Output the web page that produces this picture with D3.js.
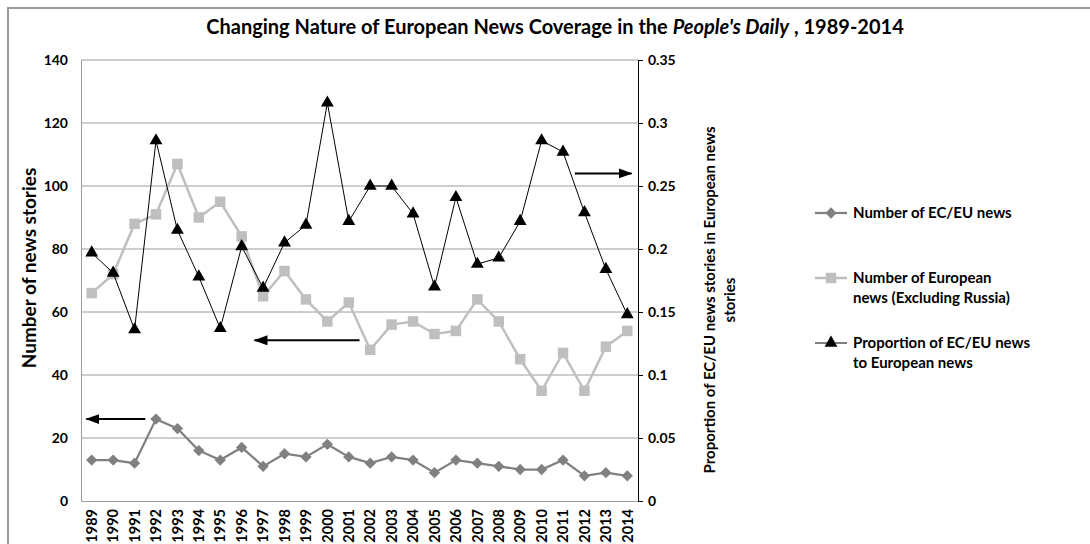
<!DOCTYPE html>
<html>
<head>
<meta charset="utf-8">
<script src="https://cdn.jsdelivr.net/npm/d3@7"></script>
<style>
  body { margin: 0; background: #fff; }
  text { font-family: Lato, "Open Sans", sans-serif; font-weight: bold; fill: #000; }
</style>
</head>
<body>
<svg id="chart" width="1090" height="544"></svg>
<script>
// data
const years = ['1989','1990','1991','1992','1993','1994','1995','1996','1997','1998','1999','2000','2001',
  '2002','2003','2004','2005','2006','2007','2008','2009','2010','2011','2012','2013','2014'];
const ecEuNews = [13,13,12,26,23,16,13,17,11,15,14,18,14,12,14,13,9,13,12,11,10,10,13,8,9,8];
const europeanNews = [66,72,88,91,107,90,95,84,65,73,64,57,63,48,56,57,53,54,64,57,45,35,47,35,49,54];
const ecEuShare = [0.197,0.181,0.136,0.286,0.215,0.178,0.137,0.202,0.169,0.205,0.219,0.316,0.222,
  0.250,0.250,0.228,0.170,0.241,0.188,0.193,0.222,0.286,0.277,0.229,0.184,0.148];
const leftTicks = [0,20,40,60,80,100,120,140];
const rightTicks = [0,0.05,0.1,0.15,0.2,0.25,0.3,0.35];
const seriesNames = [['Number of EC/EU news'], ['Number of European', 'news (Excluding Russia)'],
  ['Proportion of EC/EU news', 'to European news']];
// annotation arrows: value on an axis, running from one year index to another
const arrows = [
  { axis: 'left', value: 26, from: 2.5, to: -0.25 },
  { axis: 'left', value: 51, from: 12.5, to: 7.6 },
  { axis: 'right', value: 0.26, from: 22.55, to: 25.2 }
];

const svg = d3.select('#chart');
const plot = { left: 81, right: 638, top: 60, bottom: 501 };

svg.append('rect')
  .attr('x', 8).attr('y', 8).attr('width', 1100).attr('height', 600)
  .attr('fill', 'none').attr('stroke', '#9a9a9a').attr('stroke-width', 2);

const x = d3.scaleBand().domain(years).range([plot.left, plot.right]);
const cx = d => x(d) + x.bandwidth() / 2;
const xi = d3.scaleLinear().domain([0, years.length - 1]).range([cx(years[0]), cx(years[years.length - 1])]);
const yL = d3.scaleLinear().domain([0, 140]).range([plot.bottom, plot.top]);
const yR = d3.scaleLinear().domain([0, 0.35]).range([plot.bottom, plot.top]);

// gridlines
svg.append('g')
  .selectAll('line')
  .data(leftTicks.slice(1))
  .enter()
  .append('line')
  .attr('x1', plot.left).attr('x2', plot.right)
  .attr('y1', d => yL(d)).attr('y2', d => yL(d))
  .attr('stroke', '#9c9c9c').attr('stroke-width', 1);

// left axis
const gl = svg.append('g')
  .attr('transform', `translate(${plot.left}, 0)`)
  .call(d3.axisLeft(yL).tickValues(leftTicks).tickSize(0).tickPadding(13));
gl.select('.domain').attr('stroke', '#9c9c9c');
gl.selectAll('text').style('font-size', '14px');

// bottom axis
const gb = svg.append('g')
  .attr('transform', `translate(0, ${plot.bottom})`)
  .call(d3.axisBottom(x).tickSize(0));
gb.select('.domain').attr('stroke', '#9c9c9c');
gb.selectAll('text')
  .style('font-size', '14.5px')
  .style('text-anchor', 'end')
  .attr('transform', 'rotate(-90)')
  .attr('x', -8).attr('y', 0).attr('dy', '0.36em');

// right axis
const gr = svg.append('g')
  .attr('transform', `translate(${plot.right}, 0)`)
  .call(d3.axisRight(yR).tickValues(rightTicks).tickFormat(d => String(d)).tickSize(5).tickSizeOuter(0).tickPadding(5));
gr.select('.domain').attr('stroke', '#000');
gr.selectAll('.tick line').attr('stroke', '#000');
gr.selectAll('text').style('font-size', '14px');

// series lines and markers
const lineL = d3.line().x((d, i) => cx(years[i])).y(d => yL(d));
const lineR = d3.line().x((d, i) => cx(years[i])).y(d => yR(d));

svg.append('path').datum(ecEuNews).attr('d', lineL)
  .attr('fill', 'none').attr('stroke', '#808080').attr('stroke-width', 2.25);
svg.append('g').selectAll('path').data(ecEuNews).enter().append('path')
  .attr('d', d3.symbol().type(d3.symbolSquare).size(64))
  .attr('transform', (d, i) => `translate(${cx(years[i])}, ${yL(d)}) rotate(45)`)
  .attr('fill', '#808080');

svg.append('path').datum(europeanNews).attr('d', lineL)
  .attr('fill', 'none').attr('stroke', '#bfbfbf').attr('stroke-width', 2.5);
svg.append('g').selectAll('path').data(europeanNews).enter().append('path')
  .attr('d', d3.symbol().type(d3.symbolSquare).size(110))
  .attr('transform', (d, i) => `translate(${cx(years[i])}, ${yL(d)})`)
  .attr('fill', '#bfbfbf');

svg.append('path').datum(ecEuShare).attr('d', lineR)
  .attr('fill', 'none').attr('stroke', '#000').attr('stroke-width', 1);
svg.append('g').selectAll('path').data(ecEuShare).enter().append('path')
  .attr('d', d3.symbol().type(d3.symbolTriangle).size(72))
  .attr('transform', (d, i) => `translate(${cx(years[i])}, ${yR(d)})`)
  .attr('fill', '#000');

// arrows
svg.append('defs').append('marker')
  .attr('id', 'head')
  .attr('markerUnits', 'userSpaceOnUse')
  .attr('markerWidth', 15).attr('markerHeight', 12)
  .attr('refX', 13).attr('refY', 5)
  .attr('orient', 'auto')
  .append('path').attr('d', 'M0,0 L14,5 L0,10 Z').attr('fill', '#000');

svg.append('g').selectAll('line').data(arrows).enter().append('line')
  .attr('x1', d => xi(d.from)).attr('x2', d => xi(d.to))
  .attr('y1', d => (d.axis === 'left' ? yL : yR)(d.value))
  .attr('y2', d => (d.axis === 'left' ? yL : yR)(d.value))
  .attr('stroke', '#000').attr('stroke-width', 2)
  .attr('marker-end', 'url(#head)');

// title
const title = svg.append('text')
  .attr('x', 555).attr('y', 34)
  .attr('text-anchor', 'middle')
  .style('font-size', '20px');
title.append('tspan').text('Changing Nature of European News Coverage in the ');
title.append('tspan').style('font-style', 'italic').text("People's Daily");
title.append('tspan').text(' , 1989-2014');

// axis titles
svg.append('text')
  .attr('transform', 'translate(36, 268) rotate(-90)')
  .attr('text-anchor', 'middle')
  .style('font-size', '19px')
  .text('Number of news stories');

const rt = svg.append('text')
  .attr('transform', 'translate(715, 300) rotate(-90)')
  .attr('text-anchor', 'middle')
  .style('font-size', '15px');
rt.append('tspan').attr('x', 0).attr('y', 0).text('Proportion of EC/EU news stories in European news');
rt.append('tspan').attr('x', 0).attr('y', 20).text('stories');

// legend
const legendY = [213, 278, 343];
const legend = svg.append('g');
const styles = [
  { color: '#808080', width: 2.25, sym: d3.symbol().type(d3.symbolSquare).size(64), rot: 45 },
  { color: '#bfbfbf', width: 2.5, sym: d3.symbol().type(d3.symbolSquare).size(110), rot: 0 },
  { color: '#000', width: 1, sym: d3.symbol().type(d3.symbolTriangle).size(72), rot: 0 }
];
seriesNames.forEach((lines, k) => {
  const y = legendY[k];
  legend.append('line').attr('x1', 815).attr('x2', 847).attr('y1', y).attr('y2', y)
    .attr('stroke', styles[k].color).attr('stroke-width', styles[k].width);
  legend.append('path').attr('d', styles[k].sym())
    .attr('transform', `translate(831, ${y}) rotate(${styles[k].rot})`)
    .attr('fill', styles[k].color);
  const t = legend.append('text').attr('x', 853).attr('y', y + 5).style('font-size', '15px');
  lines.forEach((s, j) => t.append('tspan').attr('x', 853).attr('dy', j ? 20 : 0).text(s));
});
</script>
</body>
</html>
